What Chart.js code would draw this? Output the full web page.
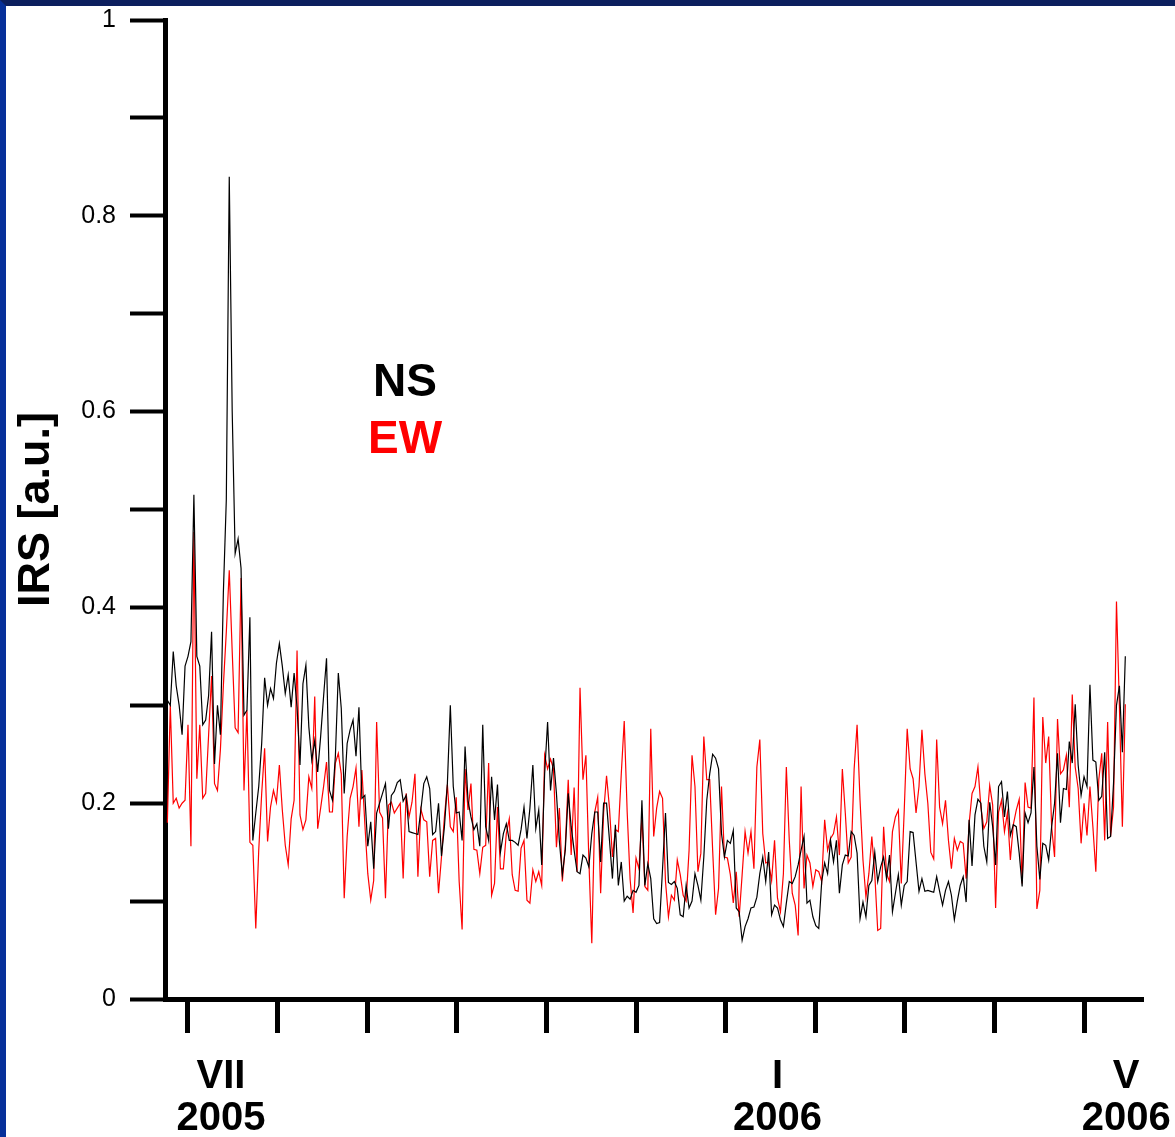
<!DOCTYPE html>
<html>
<head>
<meta charset="utf-8">
<script src="https://cdn.jsdelivr.net/npm/chart.js@4.4.0/dist/chart.umd.min.js"></script>
<style>
    html, body { margin: 0; padding: 0; background: #fff; }
    #frame {
        width: 1169px; height: 1131px;
        border-top: 6px solid #0c1f5e;
        border-left: 6px solid #06309a;
        background: #fff;
    }
    canvas { display: block; }
</style>
</head>
<body>
<div id="frame"><canvas id="irsChart" width="1169" height="1131"></canvas></div>
<script>
// days counted from 1 July 2005, one value per day
const startDay = -7;

const nsValues = [
    0.305, 0.30, 0.355, 0.32, 0.30, 0.27, 0.34, 0.35, 0.365, 0.515, 0.35, 0.34, 0.28, 0.285, 0.31, 0.375, 0.24, 0.30, 0.27, 0.415, 0.51, 0.84, 0.60, 0.455, 0.47, 0.44, 0.29, 0.295, 0.39, 0.162, 0.19, 0.217,
    0.261, 0.328, 0.30, 0.317, 0.307, 0.343, 0.363, 0.34, 0.312, 0.331, 0.298, 0.333, 0.298, 0.239, 0.322, 0.341, 0.278, 0.244, 0.264, 0.232, 0.268, 0.309, 0.348, 0.213, 0.203, 0.248, 0.333, 0.297, 0.21, 0.261, 0.275, 0.285, 0.248, 0.298,
    0.205, 0.208, 0.156, 0.181, 0.133, 0.19, 0.20, 0.21, 0.22, 0.174, 0.208, 0.212, 0.221, 0.224, 0.202, 0.208, 0.171, 0.17, 0.169, 0.168, 0.193, 0.22, 0.227, 0.215, 0.168, 0.171, 0.20, 0.146, 0.176, 0.22, 0.30, 0.217, 0.19, 0.191,
    0.162, 0.258, 0.203, 0.186, 0.173, 0.179, 0.156, 0.28, 0.176, 0.162, 0.227, 0.183, 0.219, 0.15, 0.169, 0.179, 0.162, 0.162, 0.16, 0.157, 0.173, 0.196, 0.164, 0.195, 0.239, 0.174, 0.193, 0.137, 0.23, 0.283, 0.213, 0.246, 0.21,
    0.161, 0.127, 0.152, 0.21, 0.176, 0.152, 0.13, 0.128, 0.147, 0.144, 0.135, 0.169, 0.191, 0.191, 0.14, 0.20, 0.20, 0.162, 0.123, 0.178, 0.116, 0.14, 0.10, 0.105, 0.102, 0.111, 0.109, 0.116, 0.203, 0.116, 0.138, 0.123, 0.082, 0.077,
    0.078, 0.133, 0.19, 0.119, 0.117, 0.12, 0.113, 0.086, 0.084, 0.116, 0.093, 0.10, 0.128, 0.116, 0.101, 0.145, 0.203, 0.23, 0.25, 0.246, 0.235, 0.169, 0.145, 0.162, 0.159, 0.172, 0.093, 0.089, 0.06, 0.074, 0.082, 0.093, 0.094, 0.104, 0.128,
    0.145, 0.12, 0.15, 0.086, 0.096, 0.093, 0.081, 0.074, 0.098, 0.12, 0.118, 0.125, 0.137, 0.152, 0.166, 0.098, 0.101, 0.084, 0.075, 0.072, 0.12, 0.139, 0.128, 0.162, 0.14, 0.162, 0.108, 0.137, 0.147, 0.146, 0.171, 0.167, 0.149, 0.082,
    0.099, 0.084, 0.116, 0.121, 0.15, 0.12, 0.135, 0.145, 0.123, 0.147, 0.089, 0.108, 0.127, 0.096, 0.116, 0.12, 0.171, 0.17, 0.14, 0.11, 0.123, 0.11, 0.111, 0.11, 0.109, 0.125, 0.11, 0.096, 0.111, 0.12, 0.106, 0.081, 0.10, 0.116,
    0.125, 0.099, 0.183, 0.136, 0.188, 0.204, 0.20, 0.156, 0.14, 0.201, 0.176, 0.137, 0.217, 0.222, 0.186, 0.212, 0.167, 0.178, 0.176, 0.149, 0.115, 0.19, 0.18, 0.19, 0.237, 0.156, 0.122, 0.159, 0.157, 0.142, 0.176, 0.20, 0.251, 0.18,
    0.215, 0.214, 0.263, 0.241, 0.301, 0.239, 0.208, 0.227, 0.217, 0.321, 0.244, 0.242, 0.203, 0.207, 0.252, 0.164, 0.166, 0.22, 0.30, 0.32, 0.252, 0.35
];

const ewValues = [
    0.18, 0.30, 0.20, 0.205, 0.195, 0.20, 0.203, 0.28, 0.156, 0.477, 0.225, 0.28, 0.205, 0.21, 0.27, 0.33, 0.22, 0.213, 0.255, 0.32, 0.375, 0.438, 0.355, 0.277, 0.272, 0.43, 0.213, 0.295, 0.16, 0.157, 0.072, 0.152,
    0.21, 0.256, 0.161, 0.196, 0.213, 0.201, 0.239, 0.193, 0.157, 0.137, 0.184, 0.203, 0.356, 0.188, 0.173, 0.183, 0.227, 0.215, 0.309, 0.174, 0.195, 0.217, 0.242, 0.191, 0.191, 0.241, 0.251, 0.23, 0.103, 0.166, 0.205, 0.217, 0.236, 0.176,
    0.234, 0.179, 0.128, 0.101, 0.121, 0.283, 0.191, 0.185, 0.103, 0.198, 0.201, 0.19, 0.195, 0.20, 0.123, 0.21, 0.186, 0.201, 0.23, 0.125, 0.194, 0.183, 0.181, 0.125, 0.162, 0.164, 0.108, 0.145, 0.186, 0.219, 0.176, 0.171, 0.206, 0.12,
    0.071, 0.235, 0.193, 0.22, 0.153, 0.152, 0.128, 0.155, 0.157, 0.241, 0.106, 0.118, 0.196, 0.133, 0.133, 0.169, 0.184, 0.127, 0.111, 0.11, 0.154, 0.162, 0.101, 0.098, 0.132, 0.12, 0.13, 0.116, 0.249, 0.235, 0.245, 0.235, 0.155,
    0.195, 0.12, 0.156, 0.224, 0.147, 0.216, 0.13, 0.318, 0.224, 0.249, 0.142, 0.057, 0.191, 0.206, 0.108, 0.19, 0.228, 0.195, 0.145, 0.173, 0.171, 0.23, 0.284, 0.191, 0.122, 0.088, 0.144, 0.133, 0.186, 0.115, 0.111, 0.276, 0.166,
    0.195, 0.212, 0.205, 0.12, 0.084, 0.106, 0.101, 0.142, 0.127, 0.106, 0.10, 0.152, 0.249, 0.217, 0.13, 0.149, 0.268, 0.224, 0.224, 0.152, 0.086, 0.113, 0.217, 0.145, 0.144, 0.127, 0.098, 0.13, 0.084, 0.127, 0.171, 0.149, 0.171, 0.133, 0.237, 0.265,
    0.169, 0.139, 0.14, 0.121, 0.162, 0.103, 0.089, 0.128, 0.237, 0.162, 0.108, 0.096, 0.065, 0.217, 0.113, 0.147, 0.139, 0.115, 0.132, 0.13, 0.12, 0.183, 0.152, 0.164, 0.169, 0.186, 0.147, 0.235, 0.19, 0.139, 0.145, 0.235, 0.28, 0.203,
    0.142, 0.104, 0.128, 0.166, 0.128, 0.07, 0.072, 0.176, 0.128, 0.12, 0.171, 0.186, 0.193, 0.118, 0.193, 0.276, 0.235, 0.225, 0.19, 0.217, 0.275, 0.23, 0.20, 0.15, 0.143, 0.265, 0.196, 0.179, 0.203, 0.162, 0.133, 0.164, 0.152, 0.161,
    0.159, 0.123, 0.179, 0.21, 0.217, 0.237, 0.196, 0.174, 0.181, 0.218, 0.198, 0.093, 0.191, 0.203, 0.171, 0.19, 0.142, 0.178, 0.193, 0.204, 0.118, 0.221, 0.196, 0.195, 0.308, 0.092, 0.111, 0.288, 0.241, 0.268, 0.176, 0.145, 0.286, 0.23,
    0.234, 0.249, 0.196, 0.311, 0.237, 0.215, 0.159, 0.20, 0.167, 0.217, 0.176, 0.13, 0.224, 0.251, 0.162, 0.283, 0.166, 0.196, 0.406, 0.299, 0.176, 0.301
];

// month tick marks (evenly spaced on the original axis)
const monthTicks = [0, 30.4, 60.8, 91.2, 121.6, 152, 182.4, 212.8, 243.2, 273.6, 304];
// month labels sit a little to the right of their tick
const labelDays = [11.2, 200, 318.3];
const labelTexts = [['VII', '2005'], ['I', '2006'], ['V', '2006']];

const yTicks = [0, 0.1, 0.2, 0.3, 0.4, 0.5, 0.6, 0.7, 0.8, 0.9, 1];
const yTickLabels = ['0', '', '0.2', '', '0.4', '', '0.6', '', '0.8', '', '1'];

const seriesNames = ['NS', 'EW'];
const seriesColors = ['#000000', '#ff0000'];

const FONT = "'Liberation Sans', Arial, sans-serif";

function toPoints(values) {
    return values.map((v, i) => ({ x: startDay + i, y: v }));
}

// "NS" / "EW" labels inside the plot
const seriesLabelPlugin = {
    id: 'seriesLabels',
    afterDraw(chart) {
        const { ctx, chartArea } = chart;
        ctx.save();
        ctx.font = 'bold 46px ' + FONT;
        ctx.textAlign = 'center';
        ctx.textBaseline = 'middle';
        seriesNames.forEach((name, i) => {
            ctx.fillStyle = seriesColors[i];
            ctx.fillText(name, chartArea.left + 240, chartArea.top + 363 + i * 57);
        });
        ctx.restore();
    }
};

const ctx = document.getElementById('irsChart').getContext('2d');

new Chart(ctx, {
    type: 'line',
    data: {
        datasets: [
            { label: seriesNames[0], data: toPoints(nsValues), borderColor: seriesColors[0] },
            { label: seriesNames[1], data: toPoints(ewValues), borderColor: seriesColors[1] }
        ]
    },
    options: {
        responsive: false,
        animation: false,
        layout: { padding: { top: 14, right: 32, left: 0, bottom: 0 } },
        plugins: { legend: { display: false }, tooltip: { enabled: false } },
        elements: {
            point: { radius: 0 },
            line: { borderWidth: 1.2, tension: 0 }
        },
        scales: {
            x: {
                type: 'linear',
                min: -7.8,
                max: 324,
                afterBuildTicks: (scale) => {
                    scale.ticks = [...monthTicks, ...labelDays].sort((a, b) => a - b).map(v => ({ value: v }));
                },
                afterFit: (scale) => {
                    scale.height = 138;
                    scale.paddingLeft = 0;
                    scale.paddingRight = 0;
                },
                grid: {
                    drawOnChartArea: false,
                    drawTicks: true,
                    tickLength: 34,
                    tickWidth: 5,
                    tickColor: (c) => (c.tick && labelDays.includes(c.tick.value)) ? 'rgba(0,0,0,0)' : '#000'
                },
                border: { display: true, width: 5, color: '#000' },
                ticks: {
                    autoSkip: false,
                    maxRotation: 0,
                    minRotation: 0,
                    padding: 23,
                    color: '#000',
                    font: { family: FONT, size: 40, weight: 'bold', lineHeight: 1.05 },
                    callback: (value) => {
                        const k = labelDays.indexOf(value);
                        return k >= 0 ? labelTexts[k] : '';
                    }
                }
            },
            y: {
                min: 0,
                max: 1,
                afterBuildTicks: (scale) => {
                    scale.ticks = yTicks.map(v => ({ value: v }));
                },
                afterFit: (scale) => {
                    scale.width = 159;
                    scale.paddingTop = 0;
                    scale.paddingBottom = 0;
                },
                grid: {
                    drawOnChartArea: false,
                    drawTicks: true,
                    tickLength: 35,
                    tickWidth: 4,
                    tickColor: '#000'
                },
                border: { display: true, width: 5, color: '#000' },
                ticks: {
                    padding: 14,
                    color: '#000',
                    font: { family: FONT, size: 25 },
                    callback: (value) => {
                        const k = yTicks.findIndex(t => Math.abs(t - value) < 1e-6);
                        return k >= 0 ? yTickLabels[k] : '';
                    }
                },
                title: {
                    display: true,
                    text: 'IRS [a.u.]',
                    color: '#000',
                    font: { family: FONT, size: 45, weight: 'bold' },
                    padding: { top: 4, bottom: 0 }
                }
            }
        }
    },
    plugins: [seriesLabelPlugin]
});
</script>
</body>
</html>
